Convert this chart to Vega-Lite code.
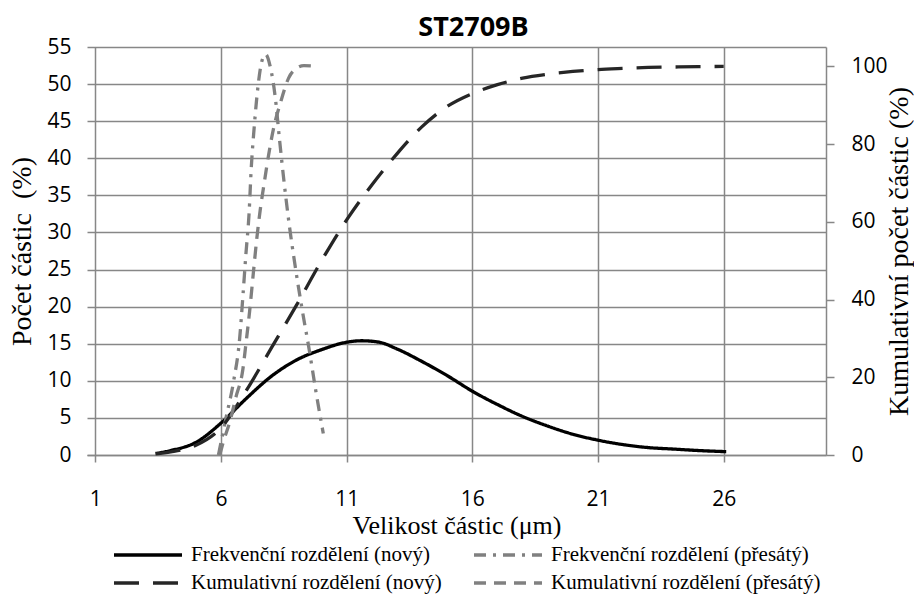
{
  "$schema": "https://vega.github.io/schema/vega-lite/v6.json",
  "autosize": "none",
  "width": 739,
  "height": 408,
  "padding": {"left": 87, "top": 47, "right": 88, "bottom": 139},
  "background": "white",
  "title": {"text": "ST2709B", "font": "Open Sans", "fontSize": 27, "fontWeight": "bold", "color": "#000000", "anchor": "middle", "offset": -6, "dx": 17},
  "config": {"view": {"stroke": null}},
  "data": {"values": [
    {"series": "Frekvenční rozdělení (nový)", "x": 3.4, "v": 0.2},
    {"series": "Frekvenční rozdělení (nový)", "x": 4, "v": 0.6},
    {"series": "Frekvenční rozdělení (nový)", "x": 5, "v": 1.7},
    {"series": "Frekvenční rozdělení (nový)", "x": 6, "v": 4.3},
    {"series": "Frekvenční rozdělení (nový)", "x": 7, "v": 7.6},
    {"series": "Frekvenční rozdělení (nový)", "x": 8, "v": 10.6},
    {"series": "Frekvenční rozdělení (nový)", "x": 9, "v": 12.8},
    {"series": "Frekvenční rozdělení (nový)", "x": 10, "v": 14.2},
    {"series": "Frekvenční rozdělení (nový)", "x": 11, "v": 15.2},
    {"series": "Frekvenční rozdělení (nový)", "x": 11.6, "v": 15.4},
    {"series": "Frekvenční rozdělení (nový)", "x": 12.3, "v": 15.2},
    {"series": "Frekvenční rozdělení (nový)", "x": 13, "v": 14.3},
    {"series": "Frekvenční rozdělení (nový)", "x": 14, "v": 12.6},
    {"series": "Frekvenční rozdělení (nový)", "x": 15, "v": 10.7},
    {"series": "Frekvenční rozdělení (nový)", "x": 16, "v": 8.6},
    {"series": "Frekvenční rozdělení (nový)", "x": 17, "v": 6.8},
    {"series": "Frekvenční rozdělení (nový)", "x": 18, "v": 5.2},
    {"series": "Frekvenční rozdělení (nový)", "x": 19, "v": 3.9},
    {"series": "Frekvenční rozdělení (nový)", "x": 20, "v": 2.8},
    {"series": "Frekvenční rozdělení (nový)", "x": 21, "v": 2.0},
    {"series": "Frekvenční rozdělení (nový)", "x": 22, "v": 1.4},
    {"series": "Frekvenční rozdělení (nový)", "x": 23, "v": 1.0},
    {"series": "Frekvenční rozdělení (nový)", "x": 24, "v": 0.8},
    {"series": "Frekvenční rozdělení (nový)", "x": 25, "v": 0.6},
    {"series": "Frekvenční rozdělení (nový)", "x": 26.1, "v": 0.45},

    {"series": "Frekvenční rozdělení (přesátý)", "x": 5.9, "v": 0},
    {"series": "Frekvenční rozdělení (přesátý)", "x": 6.2, "v": 5},
    {"series": "Frekvenční rozdělení (přesátý)", "x": 6.5, "v": 9.9},
    {"series": "Frekvenční rozdělení (přesátý)", "x": 6.74, "v": 15.6},
    {"series": "Frekvenční rozdělení (přesátý)", "x": 6.87, "v": 21.3},
    {"series": "Frekvenční rozdělení (přesátý)", "x": 6.99, "v": 27},
    {"series": "Frekvenční rozdělení (přesátý)", "x": 7.12, "v": 32.7},
    {"series": "Frekvenční rozdělení (přesátý)", "x": 7.2, "v": 38.4},
    {"series": "Frekvenční rozdělení (přesátý)", "x": 7.32, "v": 44.1},
    {"series": "Frekvenční rozdělení (přesátý)", "x": 7.48, "v": 49.9},
    {"series": "Frekvenční rozdělení (přesátý)", "x": 7.62, "v": 53},
    {"series": "Frekvenční rozdělení (přesátý)", "x": 7.78, "v": 54},
    {"series": "Frekvenční rozdělení (přesátý)", "x": 7.95, "v": 52.5},
    {"series": "Frekvenční rozdělení (přesátý)", "x": 8.16, "v": 48.2},
    {"series": "Frekvenční rozdělení (přesátý)", "x": 8.33, "v": 42.5},
    {"series": "Frekvenční rozdělení (přesátý)", "x": 8.51, "v": 36.8},
    {"series": "Frekvenční rozdělení (přesátý)", "x": 8.71, "v": 31.2},
    {"series": "Frekvenční rozdělení (přesátý)", "x": 8.95, "v": 25.5},
    {"series": "Frekvenční rozdělení (přesátý)", "x": 9.22, "v": 19.8},
    {"series": "Frekvenční rozdělení (přesátý)", "x": 9.51, "v": 14.2},
    {"series": "Frekvenční rozdělení (přesátý)", "x": 9.78, "v": 8.5},
    {"series": "Frekvenční rozdělení (přesátý)", "x": 10.07, "v": 2.9},

    {"series": "Kumulativní rozdělení (nový)", "x": 3.4, "v": 0.3},
    {"series": "Kumulativní rozdělení (nový)", "x": 4, "v": 0.8},
    {"series": "Kumulativní rozdělení (nový)", "x": 5, "v": 2.5},
    {"series": "Kumulativní rozdělení (nový)", "x": 6, "v": 7},
    {"series": "Kumulativní rozdělení (nový)", "x": 7, "v": 16.5},
    {"series": "Kumulativní rozdělení (nový)", "x": 8, "v": 27.5},
    {"series": "Kumulativní rozdělení (nový)", "x": 9, "v": 38.5},
    {"series": "Kumulativní rozdělení (nový)", "x": 10, "v": 50},
    {"series": "Kumulativní rozdělení (nový)", "x": 11, "v": 60.5},
    {"series": "Kumulativní rozdělení (nový)", "x": 12, "v": 69.5},
    {"series": "Kumulativní rozdělení (nový)", "x": 13, "v": 77.5},
    {"series": "Kumulativní rozdělení (nový)", "x": 14, "v": 84.5},
    {"series": "Kumulativní rozdělení (nový)", "x": 15, "v": 89.7},
    {"series": "Kumulativní rozdělení (nový)", "x": 16, "v": 93},
    {"series": "Kumulativní rozdělení (nový)", "x": 17, "v": 95.3},
    {"series": "Kumulativní rozdělení (nový)", "x": 18, "v": 97},
    {"series": "Kumulativní rozdělení (nový)", "x": 19, "v": 98},
    {"series": "Kumulativní rozdělení (nový)", "x": 20, "v": 98.7},
    {"series": "Kumulativní rozdělení (nový)", "x": 21, "v": 99.2},
    {"series": "Kumulativní rozdělení (nový)", "x": 22, "v": 99.5},
    {"series": "Kumulativní rozdělení (nový)", "x": 23, "v": 99.75},
    {"series": "Kumulativní rozdělení (nový)", "x": 24, "v": 99.85},
    {"series": "Kumulativní rozdělení (nový)", "x": 25, "v": 99.95},
    {"series": "Kumulativní rozdělení (nový)", "x": 26, "v": 100},

    {"series": "Kumulativní rozdělení (přesátý)", "x": 5.95, "v": 0},
    {"series": "Kumulativní rozdělení (přesátý)", "x": 6.1, "v": 3.5},
    {"series": "Kumulativní rozdělení (přesátý)", "x": 6.37, "v": 9},
    {"series": "Kumulativní rozdělení (přesátý)", "x": 6.6, "v": 15},
    {"series": "Kumulativní rozdělení (přesátý)", "x": 6.87, "v": 22},
    {"series": "Kumulativní rozdělení (přesátý)", "x": 7.0, "v": 29},
    {"series": "Kumulativní rozdělení (přesátý)", "x": 7.14, "v": 37},
    {"series": "Kumulativní rozdělení (přesátý)", "x": 7.29, "v": 47},
    {"series": "Kumulativní rozdělení (přesátý)", "x": 7.43, "v": 56},
    {"series": "Kumulativní rozdělení (přesátý)", "x": 7.56, "v": 63},
    {"series": "Kumulativní rozdělení (přesátý)", "x": 7.72, "v": 70},
    {"series": "Kumulativní rozdělení (přesátý)", "x": 7.89, "v": 77},
    {"series": "Kumulativní rozdělení (přesátý)", "x": 8.09, "v": 84},
    {"series": "Kumulativní rozdělení (přesátý)", "x": 8.36, "v": 90.5},
    {"series": "Kumulativní rozdělení (přesátý)", "x": 8.69, "v": 97},
    {"series": "Kumulativní rozdělení (přesátý)", "x": 9.0, "v": 99.5},
    {"series": "Kumulativní rozdělení (přesátý)", "x": 9.3, "v": 100.2},
    {"series": "Kumulativní rozdělení (přesátý)", "x": 9.85, "v": 100}
  ]},
  "encoding": {
    "x": {
      "field": "x", "type": "quantitative",
      "scale": {"domain": [0.67, 30.07], "nice": false, "zero": false},
      "axis": {
        "values": [1, 6, 11, 16, 21, 26],
        "title": "Velikost částic (μm)",
        "titleFont": "Liberation Serif", "titleFontSize": 26, "titleFontWeight": "normal", "titleColor": "#000000", "titlePadding": 3,
        "labelFont": "Open Sans", "labelFontSize": 21, "labelColor": "#000000", "labelPadding": 26,
        "tickColor": "#878787", "tickSize": 7, "tickWidth": 1.5,
        "domain": true, "domainColor": "#878787", "domainWidth": 1.5,
        "grid": true, "gridColor": "#878787", "gridWidth": 1.5
      }
    },
    "color": {
      "field": "series", "type": "nominal",
      "scale": {
        "domain": ["Frekvenční rozdělení (nový)", "Kumulativní rozdělení (nový)", "Frekvenční rozdělení (přesátý)", "Kumulativní rozdělení (přesátý)"],
        "range": ["#000000", "#262626", "#808080", "#808080"]
      },
      "legend": {
        "title": null, "orient": "none", "legendX": 25, "legendY": 495, "columns": 2,
        "columnPadding": 30, "rowPadding": 2, "padding": 0,
        "symbolType": "stroke", "symbolSize": 4624, "symbolStrokeWidth": 3.3,
        "clipHeight": 26, "labelOffset": 7,
        "labelFont": "Liberation Serif", "labelFontSize": 21, "labelColor": "#000000",
        "labelLimit": 400
      }
    },
    "strokeDash": {
      "field": "series", "type": "nominal",
      "scale": {
        "domain": ["Frekvenční rozdělení (nový)", "Kumulativní rozdělení (nový)", "Frekvenční rozdělení (přesátý)", "Kumulativní rozdělení (přesátý)"],
        "range": [[1, 0], [25, 14], [12, 7, 3, 7], [12, 8]]
      },
      "legend": null
    },
    "strokeWidth": {
      "field": "series", "type": "nominal",
      "scale": {
        "domain": ["Frekvenční rozdělení (nový)", "Kumulativní rozdělení (nový)", "Frekvenční rozdělení (přesátý)", "Kumulativní rozdělení (přesátý)"],
        "range": [3.3, 3.3, 2.7, 2.7]
      },
      "legend": null
    }
  },
  "layer": [
    {
      "transform": [{"filter": "indexof(datum.series, 'Frekvenční') === 0"}],
      "mark": {"type": "line", "interpolate": "monotone"},
      "encoding": {
        "y": {
          "field": "v", "type": "quantitative",
          "scale": {"domain": [0, 55], "nice": false},
          "axis": {
            "values": [0, 5, 10, 15, 20, 25, 30, 35, 40, 45, 50, 55],
            "title": "Počet částic\u00a0 (%)",
            "titleFont": "Liberation Serif", "titleFontSize": 28, "titleFontWeight": "normal", "titleColor": "#000000", "titlePadding": 10,
            "labelFont": "Open Sans", "labelFontSize": 21, "labelColor": "#000000", "labelPadding": 16,
            "ticks": false, "domain": false,
            "grid": true, "gridColor": "#878787", "gridWidth": 1.5
          }
        }
      }
    },
    {
      "transform": [{"filter": "indexof(datum.series, 'Kumulativní') === 0"}],
      "mark": {"type": "line", "interpolate": "monotone"},
      "encoding": {
        "y": {
          "field": "v", "type": "quantitative",
          "scale": {"domain": [0, 105], "nice": false},
          "axis": {
            "orient": "right",
            "values": [0, 20, 40, 60, 80, 100],
            "title": "Kumulativní počet částic (%)",
            "titleFont": "Liberation Serif", "titleFontSize": 28, "titleFontWeight": "normal", "titleColor": "#000000", "titleAngle": -90, "titleBaseline": "top", "titlePadding": -2,
            "labelFont": "Open Sans", "labelFontSize": 21, "labelColor": "#000000", "labelPadding": 17,
            "tickColor": "#878787", "tickSize": 8, "tickWidth": 1.5,
            "domain": true, "domainColor": "#878787", "domainWidth": 1.5,
            "grid": false
          }
        }
      }
    }
  ],
  "resolve": {"scale": {"y": "independent"}}
}
